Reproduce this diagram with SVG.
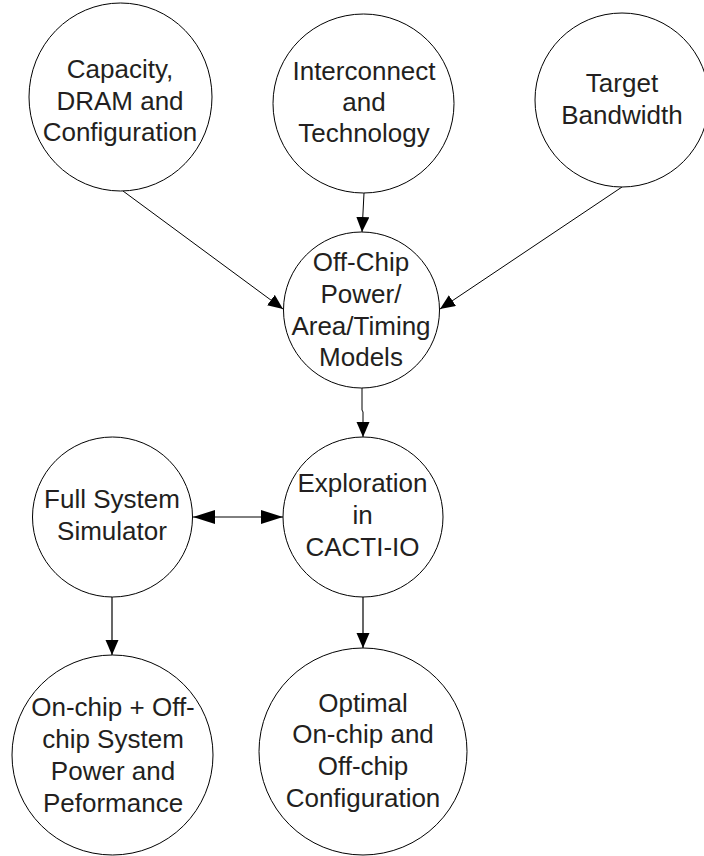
<svg xmlns="http://www.w3.org/2000/svg" width="704" height="856" viewBox="0 0 704 856">
<defs>
<style>
.node{fill:#fff;stroke:#000;stroke-width:1}
.lbl{font-family:"Liberation Sans",Arial,sans-serif;font-size:26px;fill:#231f20;text-anchor:middle}
.edge{fill:none;stroke:#000;stroke-width:1}
.edge2{fill:none;stroke:#000;stroke-width:1.2}
</style>
<marker id="arr" markerUnits="userSpaceOnUse" markerWidth="16" markerHeight="14" refX="15" refY="6.5" orient="auto">
<path d="M0,0 L15,6.5 L0,13 z" fill="#000"/>
</marker>
<marker id="arrBig" markerUnits="userSpaceOnUse" markerWidth="23" markerHeight="15" refX="22" refY="7" orient="auto-start-reverse">
<path d="M0,0 L22,7 L0,14 z" fill="#000"/>
</marker>
</defs>
<rect width="704" height="856" fill="#fff"/>
<g id="connectors">
<line class="edge" x1="123" y1="191" x2="283" y2="309" marker-end="url(#arr)"/>
<line class="edge" x1="364" y1="193" x2="362" y2="232" marker-end="url(#arr)"/>
<line class="edge" x1="622" y1="187" x2="440" y2="309" marker-end="url(#arr)"/>
<path class="edge" d="M362,387 L362,410 L363,412 L363,437" marker-end="url(#arr)"/>
<line class="edge" x1="193" y1="517" x2="283" y2="517" marker-start="url(#arrBig)" marker-end="url(#arrBig)"/>
<line class="edge2" x1="112" y1="597" x2="112" y2="655" marker-end="url(#arr)"/>
<line class="edge2" x1="363" y1="597" x2="363" y2="648" marker-end="url(#arr)"/>
</g>
<g id="n-capacity">
<ellipse class="node" cx="120.5" cy="97" rx="91.5" ry="94"/>
<text class="lbl" x="120" y="78">Capacity,</text>
<text class="lbl" x="120" y="110">DRAM and</text>
<text class="lbl" x="120" y="141">Configuration</text>
</g>
<g id="n-interconnect">
<ellipse class="node" cx="363.5" cy="103.5" rx="90.5" ry="89.5"/>
<text class="lbl" x="364" y="80">Interconnect</text>
<text class="lbl" x="364" y="111">and</text>
<text class="lbl" x="364" y="142">Technology</text>
</g>
<g id="n-bandwidth">
<circle class="node" cx="622" cy="100" r="87"/>
<text class="lbl" x="622" y="92">Target</text>
<text class="lbl" x="622" y="124">Bandwidth</text>
</g>
<g id="n-models">
<circle class="node" cx="361.5" cy="310" r="78"/>
<text class="lbl" x="361" y="271">Off-Chip</text>
<text class="lbl" x="361" y="303">Power/</text>
<text class="lbl" x="361" y="335">Area/Timing</text>
<text class="lbl" x="361" y="366">Models</text>
</g>
<g id="n-simulator">
<circle class="node" cx="112.5" cy="517" r="80"/>
<text class="lbl" x="112" y="508">Full System</text>
<text class="lbl" x="112" y="540">Simulator</text>
</g>
<g id="n-exploration">
<circle class="node" cx="363" cy="517" r="80"/>
<text class="lbl" x="362.5" y="492">Exploration</text>
<text class="lbl" x="362.5" y="524">in</text>
<text class="lbl" x="362.5" y="556">CACTI-IO</text>
</g>
<g id="n-power">
<ellipse class="node" cx="112.5" cy="755" rx="100.5" ry="100"/>
<text class="lbl" x="113" y="716">On-chip + Off-</text>
<text class="lbl" x="113" y="748">chip System</text>
<text class="lbl" x="113" y="780">Power and</text>
<text class="lbl" x="113" y="812">Peformance</text>
</g>
<g id="n-optimal">
<ellipse class="node" cx="363" cy="751.5" rx="104" ry="103.5"/>
<text class="lbl" x="363" y="712">Optimal</text>
<text class="lbl" x="363" y="743">On-chip and</text>
<text class="lbl" x="363" y="775">Off-chip</text>
<text class="lbl" x="363" y="807">Configuration</text>
</g>
</svg>
